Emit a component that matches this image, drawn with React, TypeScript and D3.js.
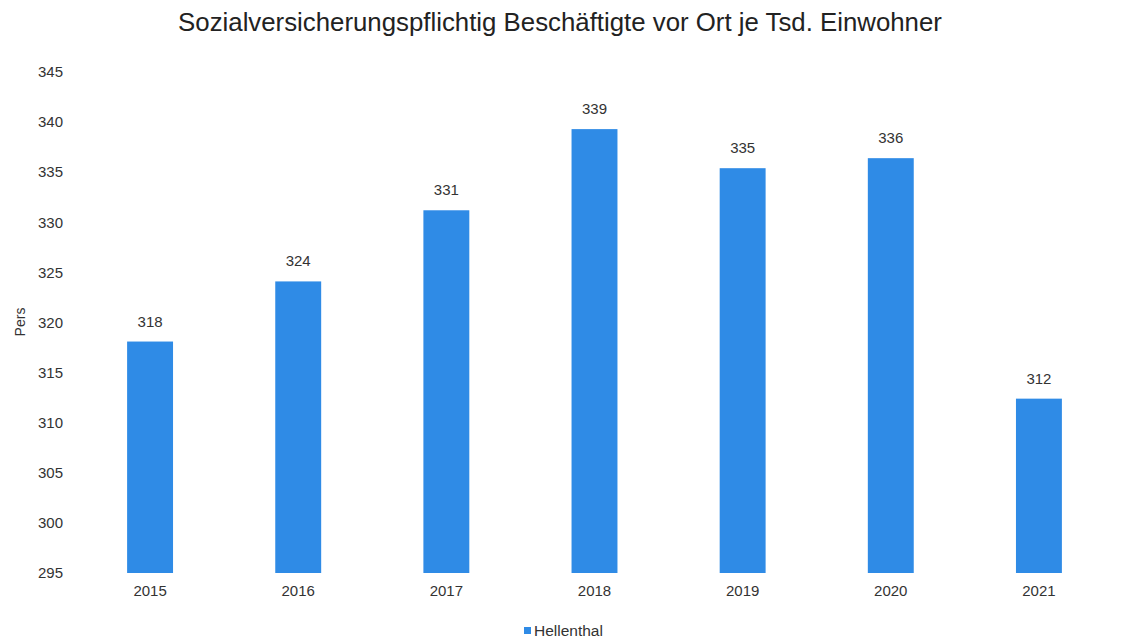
import React from "react";
import * as d3 from "d3";

const years = ["2015", "2016", "2017", "2018", "2019", "2020", "2021"];
const values = [318.1, 324.1, 331.2, 339.3, 335.4, 336.4, 312.4];
const yTicks = [295, 300, 305, 310, 315, 320, 325, 330, 335, 340, 345];
const title = "Sozialversicherungspflichtig Beschäftigte vor Ort je Tsd. Einwohner";
const seriesName = "Hellenthal";
const yAxisLabel = "Pers";

const W = 1134;
const H = 639;
const FONT = "'Liberation Sans', Arial, sans-serif";
const BAR = "#2F8BE6";

export default function App() {
  const x = d3.scaleBand().domain(years).range([76, 1113]).paddingInner(0.69).paddingOuter(0.345);
  const y = d3.scaleLinear().domain([295, 345]).range([573, 72]);
  return (
    <svg width={W} height={H} style={{ position: "absolute", left: 0, top: 0, background: "#fff" }} fontFamily={FONT}>
      <text x={560} y={31} textAnchor="middle" fontSize={25.8} fill="#222">{title}</text>
      {yTicks.map((t) => (
        <text key={t} x={63} y={y(t)} dy="0.35em" textAnchor="end" fontSize={15} fill="#333">{t}</text>
      ))}
      <text transform={`translate(25,${322}) rotate(-90)`} textAnchor="middle" fontSize={14} fill="#333">{yAxisLabel}</text>
      {years.map((yr, i) => (
        <g key={yr}>
          <rect x={x(yr)} y={y(values[i])} width={x.bandwidth()} height={y(295) - y(values[i])} fill={BAR} />
          <text x={(x(yr) as number) + x.bandwidth() / 2} y={y(values[i]) - 15} textAnchor="middle" fontSize={15} fill="#333">{Math.round(values[i])}</text>
          <text x={(x(yr) as number) + x.bandwidth() / 2} y={596} textAnchor="middle" fontSize={15} fill="#333">{yr}</text>
        </g>
      ))}
      <rect x={524} y={627} width={7} height={7} fill={BAR} />
      <text x={534} y={636} fontSize={15.5} fill="#333">{seriesName}</text>
    </svg>
  );
}
